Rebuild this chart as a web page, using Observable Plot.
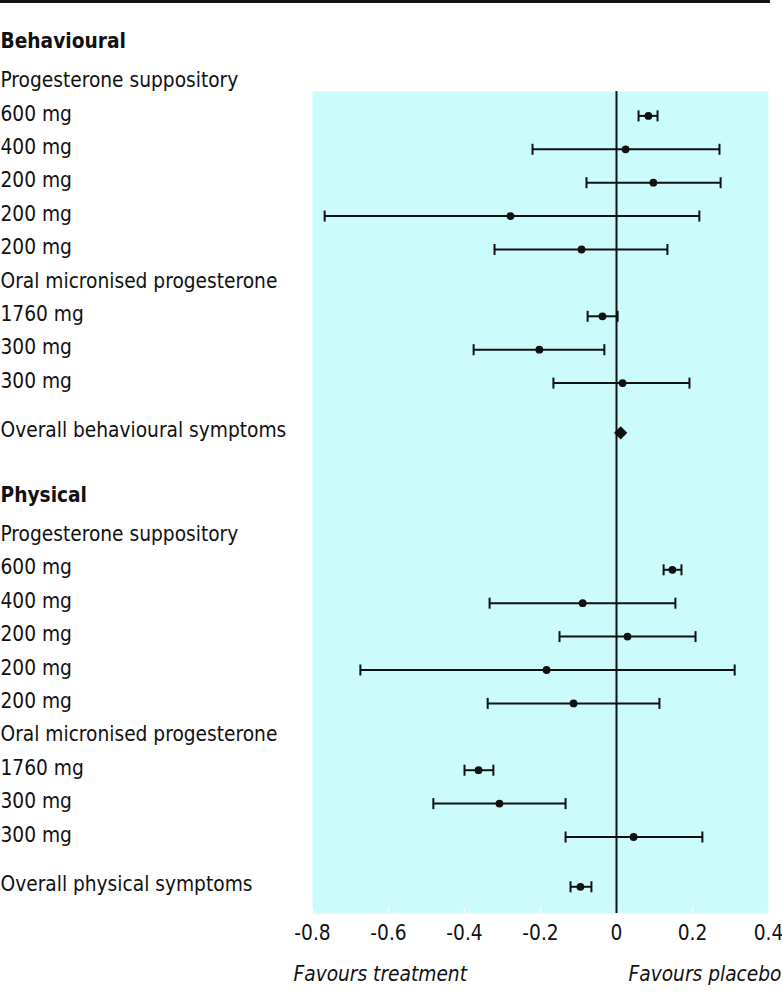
<!DOCTYPE html>
<html>
<head>
<meta charset="utf-8">
<script src="https://cdn.jsdelivr.net/npm/d3@7"></script>
<script src="https://cdn.jsdelivr.net/npm/@observablehq/plot@0.6"></script>
<style>
  html, body { margin: 0; padding: 0; background: #fff; }
  #wrap { position: relative; width: 782px; height: 992px; }
  #toprule { position: absolute; left: 0; top: 0; width: 770px; height: 3px; background: #111; }
  svg { display: block; }
</style>
</head>
<body>
<div id="wrap"><div id="toprule"></div></div>
<script>
// ---- data ----
const rowLabels = [
  "Behavioural", "Progesterone suppository", "600 mg", "400 mg", "200 mg", "200 mg", "200 mg",
  "Oral micronised progesterone", "1760 mg", "300 mg", "300 mg", "Overall behavioural symptoms",
  "Physical", "Progesterone suppository", "600 mg", "400 mg", "200 mg", "200 mg", "200 mg",
  "Oral micronised progesterone", "1760 mg", "300 mg", "300 mg", "Overall physical symptoms"
];
const rowKinds = [
  "header", "sub", "study", "study", "study", "study", "study",
  "sub", "study", "study", "study", "overall",
  "header", "sub", "study", "study", "study", "study", "study",
  "sub", "study", "study", "study", "overall"
];
const estimates = [null, null, 0.084, 0.024, 0.097, -0.279, -0.092, null, -0.037, -0.203, 0.016, 0.011,
  null, null, 0.147, -0.089, 0.029, -0.184, -0.113, null, -0.363, -0.308, 0.045, -0.095];
const lower = [null, null, 0.058, -0.221, -0.079, -0.768, -0.321, null, -0.076, -0.376, -0.166, null,
  null, null, 0.124, -0.334, -0.150, -0.674, -0.339, null, -0.400, -0.482, -0.134, -0.121];
const upper = [null, null, 0.108, 0.271, 0.274, 0.218, 0.134, null, 0.003, -0.032, 0.192, null,
  null, null, 0.171, 0.155, 0.208, 0.311, 0.113, null, -0.324, -0.134, 0.226, -0.066];
const xTicks = [-0.8, -0.6, -0.4, -0.2, 0, 0.2, 0.4];
const footLabels = ["Favours treatment", "Favours placebo"];

// ---- font choice: a condensed face if installed, sized to the reference text width ----
const ctx = document.createElement("canvas").getContext("2d");
const measure = f => { ctx.font = f; return ctx.measureText("Overall behavioural symptoms").width; };
const condOK = measure("21px 'DejaVu Sans Condensed', monospace") !== measure("21px monospace");
let FONT, FS;
if (condOK) {
  FONT = "'DejaVu Sans Condensed', 'Liberation Sans', Arial, sans-serif";
  FS = Math.min(22, Math.max(18, 21 * 286 / measure("21px 'DejaVu Sans Condensed'")));
} else {
  FONT = "'Liberation Sans', Arial, sans-serif";
  FS = 21;
}

// ---- layout of rows (vertical order with gaps) ----
const gapBefore = (kind, prev) => {
  if (prev == null) return 0;
  if (kind === "header") return 1.93;
  if (kind === "overall") return 1.49;
  if (kind === "sub" && prev === "header") return 1.17;
  return 1.0;
};
const rows = [];
let pos = 0;
rowLabels.forEach((label, i) => {
  pos += gapBefore(rowKinds[i], i ? rowKinds[i - 1] : null);
  rows.push({label, kind: rowKinds[i], pos, est: estimates[i], lo: lower[i], hi: upper[i]});
});
const studies = rows.filter(d => d.lo != null);
const diamonds = rows.filter(d => d.lo == null && d.est != null);

const INK = "#111";
const CAP = 0.165;

const chart = Plot.plot({
  width: 782,
  height: 992,
  marginLeft: 312,
  marginRight: 14,
  marginTop: 91,
  marginBottom: 79,
  style: {fontFamily: FONT, fontSize: FS + "px", color: INK, background: "transparent"},
  x: {domain: [-0.8, 0.4]},
  y: {domain: [1.44, 26.05], reverse: true, axis: null},
  marks: [
    Plot.frame({fill: "#cbfbfb", stroke: null}),
    Plot.axisX({ticks: xTicks, tickSize: -5, stroke: "#ffffff", strokeWidth: 1.5, text: null, label: null}),
    Plot.axisX({ticks: xTicks, tickSize: 0, tickPadding: 12, tickFormat: d => String(d), fontSize: FS, label: null}),
    Plot.ruleX([0], {stroke: INK, strokeWidth: 2}),
    Plot.link(studies, {x1: "lo", x2: "hi", y1: "pos", y2: "pos", stroke: INK, strokeWidth: 2}),
    Plot.link(studies, {x1: "lo", x2: "lo", y1: d => d.pos - CAP, y2: d => d.pos + CAP, stroke: INK, strokeWidth: 2}),
    Plot.link(studies, {x1: "hi", x2: "hi", y1: d => d.pos - CAP, y2: d => d.pos + CAP, stroke: INK, strokeWidth: 2}),
    Plot.dot(studies, {x: "est", y: "pos", r: 3.9, fill: INK, stroke: null}),
    Plot.dot(diamonds, {x: "est", y: "pos", r: 6, symbol: "diamond2", fill: INK, stroke: null}),
    Plot.text(rows.filter(d => d.kind !== "header"), {
      y: "pos", text: "label", frameAnchor: "left", dx: -312, dy: -2,
      textAnchor: "start", fontSize: FS, fill: INK
    }),
    Plot.text(rows.filter(d => d.kind === "header"), {
      y: "pos", text: "label", frameAnchor: "left", dx: -312, dy: -2,
      textAnchor: "start", fontSize: FS, fontWeight: "bold", fill: INK
    }),
    Plot.text([footLabels[0]], {
      text: d => d, frameAnchor: "bottom-left", dx: -19, dy: 67,
      textAnchor: "start", fontSize: FS, fontStyle: "italic", fill: INK
    }),
    Plot.text([footLabels[1]], {
      text: d => d, frameAnchor: "bottom-right", dx: 13, dy: 67,
      textAnchor: "end", fontSize: FS, fontStyle: "italic", fill: INK
    })
  ]
});
document.getElementById("wrap").appendChild(chart);
</script>
</body>
</html>
